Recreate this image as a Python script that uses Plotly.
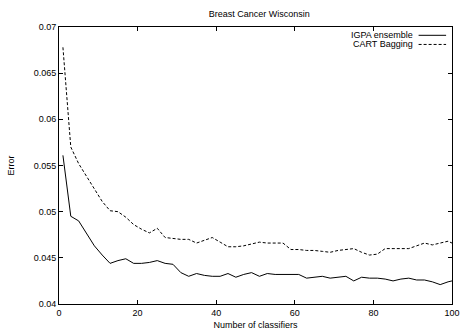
import plotly.graph_objects as go

title = "Breast Cancer Wisconsin"
x_label = "Number of classifiers"
y_label = "Error"
series_names = ["IGPA ensemble", "CART Bagging"]

n_classifiers = [1, 3, 5, 7, 9, 11, 13, 15, 17, 19, 21, 23, 25, 27, 29, 31, 33, 35, 37, 39,
                 41, 43, 45, 47, 49, 51, 53, 55, 57, 59, 61, 63, 65, 67, 69, 71, 73, 75, 77, 79,
                 81, 83, 85, 87, 89, 91, 93, 95, 97, 99, 100]

igpa = [0.0561, 0.0495, 0.0490, 0.0477, 0.0463, 0.0453, 0.0444, 0.0447, 0.0449, 0.0444,
        0.0444, 0.0445, 0.0447, 0.0444, 0.0443, 0.0434, 0.0430, 0.0433, 0.0431, 0.0430,
        0.0430, 0.0433, 0.0429, 0.0432, 0.0434, 0.0430, 0.0433, 0.0432, 0.0432, 0.0432,
        0.0432, 0.0428, 0.0429, 0.0430, 0.0428, 0.0429, 0.0430, 0.0425, 0.0429, 0.0428,
        0.0428, 0.0427, 0.0425, 0.0427, 0.0428, 0.0426, 0.0426, 0.0424, 0.0421, 0.0424,
        0.0425]

bagging = [0.0678, 0.0570, 0.0552, 0.0538, 0.0525, 0.0511, 0.0501, 0.0500, 0.0494, 0.0486,
           0.0481, 0.0477, 0.0482, 0.0472, 0.0471, 0.0470, 0.0470, 0.0466, 0.0469, 0.0472,
           0.0467, 0.0462, 0.0462, 0.0463, 0.0465, 0.0467, 0.0466, 0.0466, 0.0466, 0.0459,
           0.0459, 0.0458, 0.0458, 0.0457, 0.0456, 0.0458, 0.0459, 0.0460, 0.0456, 0.0453,
           0.0454, 0.0460, 0.0460, 0.0460, 0.0460, 0.0463, 0.0466, 0.0464, 0.0466, 0.0468,
           0.0466]

x_ticks = [0, 20, 40, 60, 80, 100]
y_ticks = [0.04, 0.045, 0.05, 0.055, 0.06, 0.065, 0.07]
y_tick_text = ["0.04", "0.045", "0.05", "0.055", "0.06", "0.065", "0.07"]

FONT = "Liberation Sans, Arial, Helvetica, sans-serif"
dashes = ["solid", "3px,2px"]

fig = go.Figure()
for name, ys, d in zip(series_names, [igpa, bagging], dashes):
    fig.add_trace(go.Scatter(x=n_classifiers, y=ys, mode="lines", name=name,
                             line=dict(color="black", width=1, dash=d),
                             showlegend=False))

# gnuplot-like legend: right-aligned text with line sample to its right
for i, (name, d) in enumerate(zip(series_names, dashes)):
    yy = 0.97 - i * 0.033
    fig.add_annotation(x=0.905, y=yy, xref="paper", yref="paper", text=name,
                       showarrow=False, xanchor="right", yanchor="middle",
                       font=dict(family=FONT, size=9, color="black"))
    fig.add_shape(type="line", xref="paper", yref="paper",
                  x0=0.915, x1=0.985, y0=yy, y1=yy,
                  line=dict(color="black", width=1, dash=d))

axis_common = dict(showline=True, linecolor="black", linewidth=1, mirror="ticks",
                   ticks="inside", ticklen=4, tickcolor="black", showgrid=False,
                   zeroline=False, ticklabeloverflow="allow",
                   tickfont=dict(family=FONT, size=9, color="black"))

fig.update_layout(
    width=467, height=335,
    margin=dict(l=59, r=7, t=27, b=28),
    paper_bgcolor="white", plot_bgcolor="white",
    font=dict(family=FONT, size=9, color="black"),
    title=dict(text=title, x=0.555, xanchor="center", y=0.958, yanchor="middle",
               font=dict(family=FONT, size=9, color="black")),
    xaxis=dict(range=[0, 100], tickvals=x_ticks,
               title=dict(text=x_label, standoff=4, font=dict(family=FONT, size=9)),
               **axis_common),
    yaxis=dict(range=[0.04, 0.07], tickvals=y_ticks, ticktext=y_tick_text,
               title=dict(text=y_label, standoff=17, font=dict(family=FONT, size=9)),
               **axis_common),
)

fig.write_html("out.html")
